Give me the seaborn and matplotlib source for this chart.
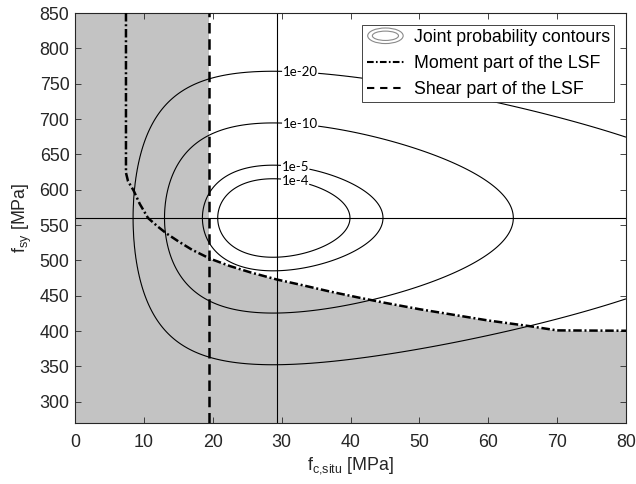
import numpy as np
import pandas as pd
import matplotlib
matplotlib.use("Agg")
import matplotlib.pyplot as plt
import seaborn as sns
from matplotlib.patches import Ellipse
from matplotlib.legend_handler import HandlerBase
from matplotlib.lines import Line2D

# ---------------- data ----------------
# joint distribution (lognormal f_c,situ  x  normal f_sy)
FC_LOG_MU = 3.378
FC_LOG_SIGMA = 0.1376
FSY_MEAN = 560.0
FSY_STD = 23.3
FC_REF = 29.3           # vertical reference line
FSY_REF = 560.0         # horizontal reference line

contour_levels = [1e-20, 1e-10, 1e-5, 1e-4]
contour_labels = ["1e-20", "1e-10", "1e-5", "1e-4"]
label_fc = [32.7, 32.7, 32.0, 32.0]
label_fsy = [769, 694, 634, 614]

moment_fc = [7.4, 7.4, 7.7, 8.5, 9.4, 10.6, 12.0, 13.3, 15.0, 17.0, 19.6, 22.5,
             25.5, 29.3, 33.0, 37.0, 41.4, 45.0, 50.0, 55.0, 60.0, 66.0, 70.0, 80.0]
moment_fsy = [850, 624, 612, 599, 580, 560, 548, 538, 527, 515, 502.5, 492,
              483, 473, 465, 456, 447, 440, 431, 423, 415, 407, 401, 400.5]
shear_fc = [19.5, 19.5]
shear_fsy = [270, 850]

x_ticks = [0, 10, 20, 30, 40, 50, 60, 70, 80]
y_ticks = [300, 350, 400, 450, 500, 550, 600, 650, 700, 750, 800, 850]
x_lim = (0, 80)
y_lim = (270, 850)

# ---------------- style ----------------
sns.set_theme(style="ticks")
plt.rcParams["font.family"] = ["Liberation Sans", "DejaVu Sans"]
plt.rcParams["mathtext.fontset"] = "custom"
plt.rcParams["mathtext.rm"] = "Liberation Sans"
plt.rcParams["mathtext.it"] = "Liberation Sans:italic"
DARK = "#262626"

fig = plt.figure(figsize=(6.36, 4.84), dpi=100)
ax = fig.add_axes([75 / 636, 61 / 484, 551 / 636, 410 / 484])
ax.set_xlim(*x_lim)
ax.set_ylim(*y_lim)

# failure region
ax.axvspan(x_lim[0], shear_fc[0], color="#c3c3c3", lw=0, zorder=0.5)
ax.fill_between(moment_fc, y_lim[0], moment_fsy, color="#c3c3c3", lw=0, zorder=0.5)

# reference lines
ax.axvline(FC_REF, color="black", lw=0.8, zorder=2)
ax.axhline(FSY_REF, color="black", lw=0.8, zorder=2)

# joint pdf contours
gx = np.linspace(0.2, 80, 800)
gy = np.linspace(270, 850, 800)
X, Y = np.meshgrid(gx, gy)
fx = np.exp(-(np.log(X) - FC_LOG_MU) ** 2 / (2 * FC_LOG_SIGMA ** 2)) / (X * FC_LOG_SIGMA * np.sqrt(2 * np.pi))
fy = np.exp(-(Y - FSY_MEAN) ** 2 / (2 * FSY_STD ** 2)) / (FSY_STD * np.sqrt(2 * np.pi))
Z = fx * fy
cs = ax.contour(X, Y, Z, levels=contour_levels, colors="black", linewidths=0.8, zorder=2)
fmt = {lv: lb for lv, lb in zip(contour_levels, contour_labels)}
texts = ax.clabel(cs, cs.levels, fmt=fmt, inline=True, inline_spacing=1, fontsize=9.5,
                  manual=list(zip(label_fc, label_fsy)))
for t in texts:
    t.set_family(["Lato", "DejaVu Sans"])
    t.set_rotation(0)

# limit state functions
df_m = pd.DataFrame({"fc": moment_fc, "fsy": moment_fsy})
sns.lineplot(data=df_m, x="fc", y="fsy", sort=False, estimator=None, ax=ax,
             color="black", lw=1.8, zorder=3)
ax.lines[-1].set_linestyle((0, (3.4, 1.1, 0.8, 1.1)))
df_s = pd.DataFrame({"fc": shear_fc, "fsy": shear_fsy})
sns.lineplot(data=df_s, x="fc", y="fsy", sort=False, estimator=None, ax=ax,
             color="black", lw=1.8, zorder=3)
ax.lines[-1].set_linestyle((0, (4.2, 2.3)))

# axes cosmetics
ax.set_xticks(x_ticks)
ax.set_yticks(y_ticks)
for s in ax.spines.values():
    s.set_visible(True)
    s.set_color(DARK)
    s.set_linewidth(0.8)
ax.tick_params(direction="in", top=True, right=True, length=4, width=0.6,
               color=DARK, labelcolor=DARK, labelsize=12.9)
ax.tick_params(axis="x", pad=8)
ax.tick_params(axis="y", pad=4)
ax.set_xlabel(r"$\mathregular{f_{c{,}situ}}$ [MPa]", fontsize=12.9, color=DARK, labelpad=3)
ax.set_ylabel(r"$\mathregular{f_{sy}}$ [MPa]", fontsize=12.9, color=DARK, labelpad=4)


class EllipseHandler(HandlerBase):
    def create_artists(self, legend, orig_handle, xdescent, ydescent, width, height, fontsize, trans):
        cx = width / 2 - xdescent
        cy = height / 2 - ydescent
        e1 = Ellipse((cx, cy), width * 0.95, height * 1.25, fill=False, ec="#8a8a8a", lw=0.8, transform=trans)
        e2 = Ellipse((cx, cy), width * 0.7, height * 0.75, fill=False, ec="#8a8a8a", lw=0.8, transform=trans)
        return [e1, e2]


class ContourProxy:
    pass


h_cont = ContourProxy()
h_mom = Line2D([], [], color="black", lw=1.5, linestyle=(0, (3.2, 1.1, 0.8, 1.1)))
h_she = Line2D([], [], color="black", lw=1.5, linestyle=(0, (3.5, 2.8)))
leg = ax.legend([h_cont, h_mom, h_she],
                ["Joint probability contours", "Moment part of the LSF", "Shear part of the LSF"],
                handler_map={ContourProxy: EllipseHandler()},
                loc="upper right", fontsize=12.8, frameon=True, fancybox=False,
                edgecolor=DARK, framealpha=1, borderpad=0.25, labelspacing=0.5,
                handlelength=2.1, handletextpad=0.55, borderaxespad=0.65)
leg.get_frame().set_linewidth(0.6)
leg.set_zorder(5)
for t in leg.get_texts():
    t.set_color("black")

fig.savefig("out.png", dpi=100)
